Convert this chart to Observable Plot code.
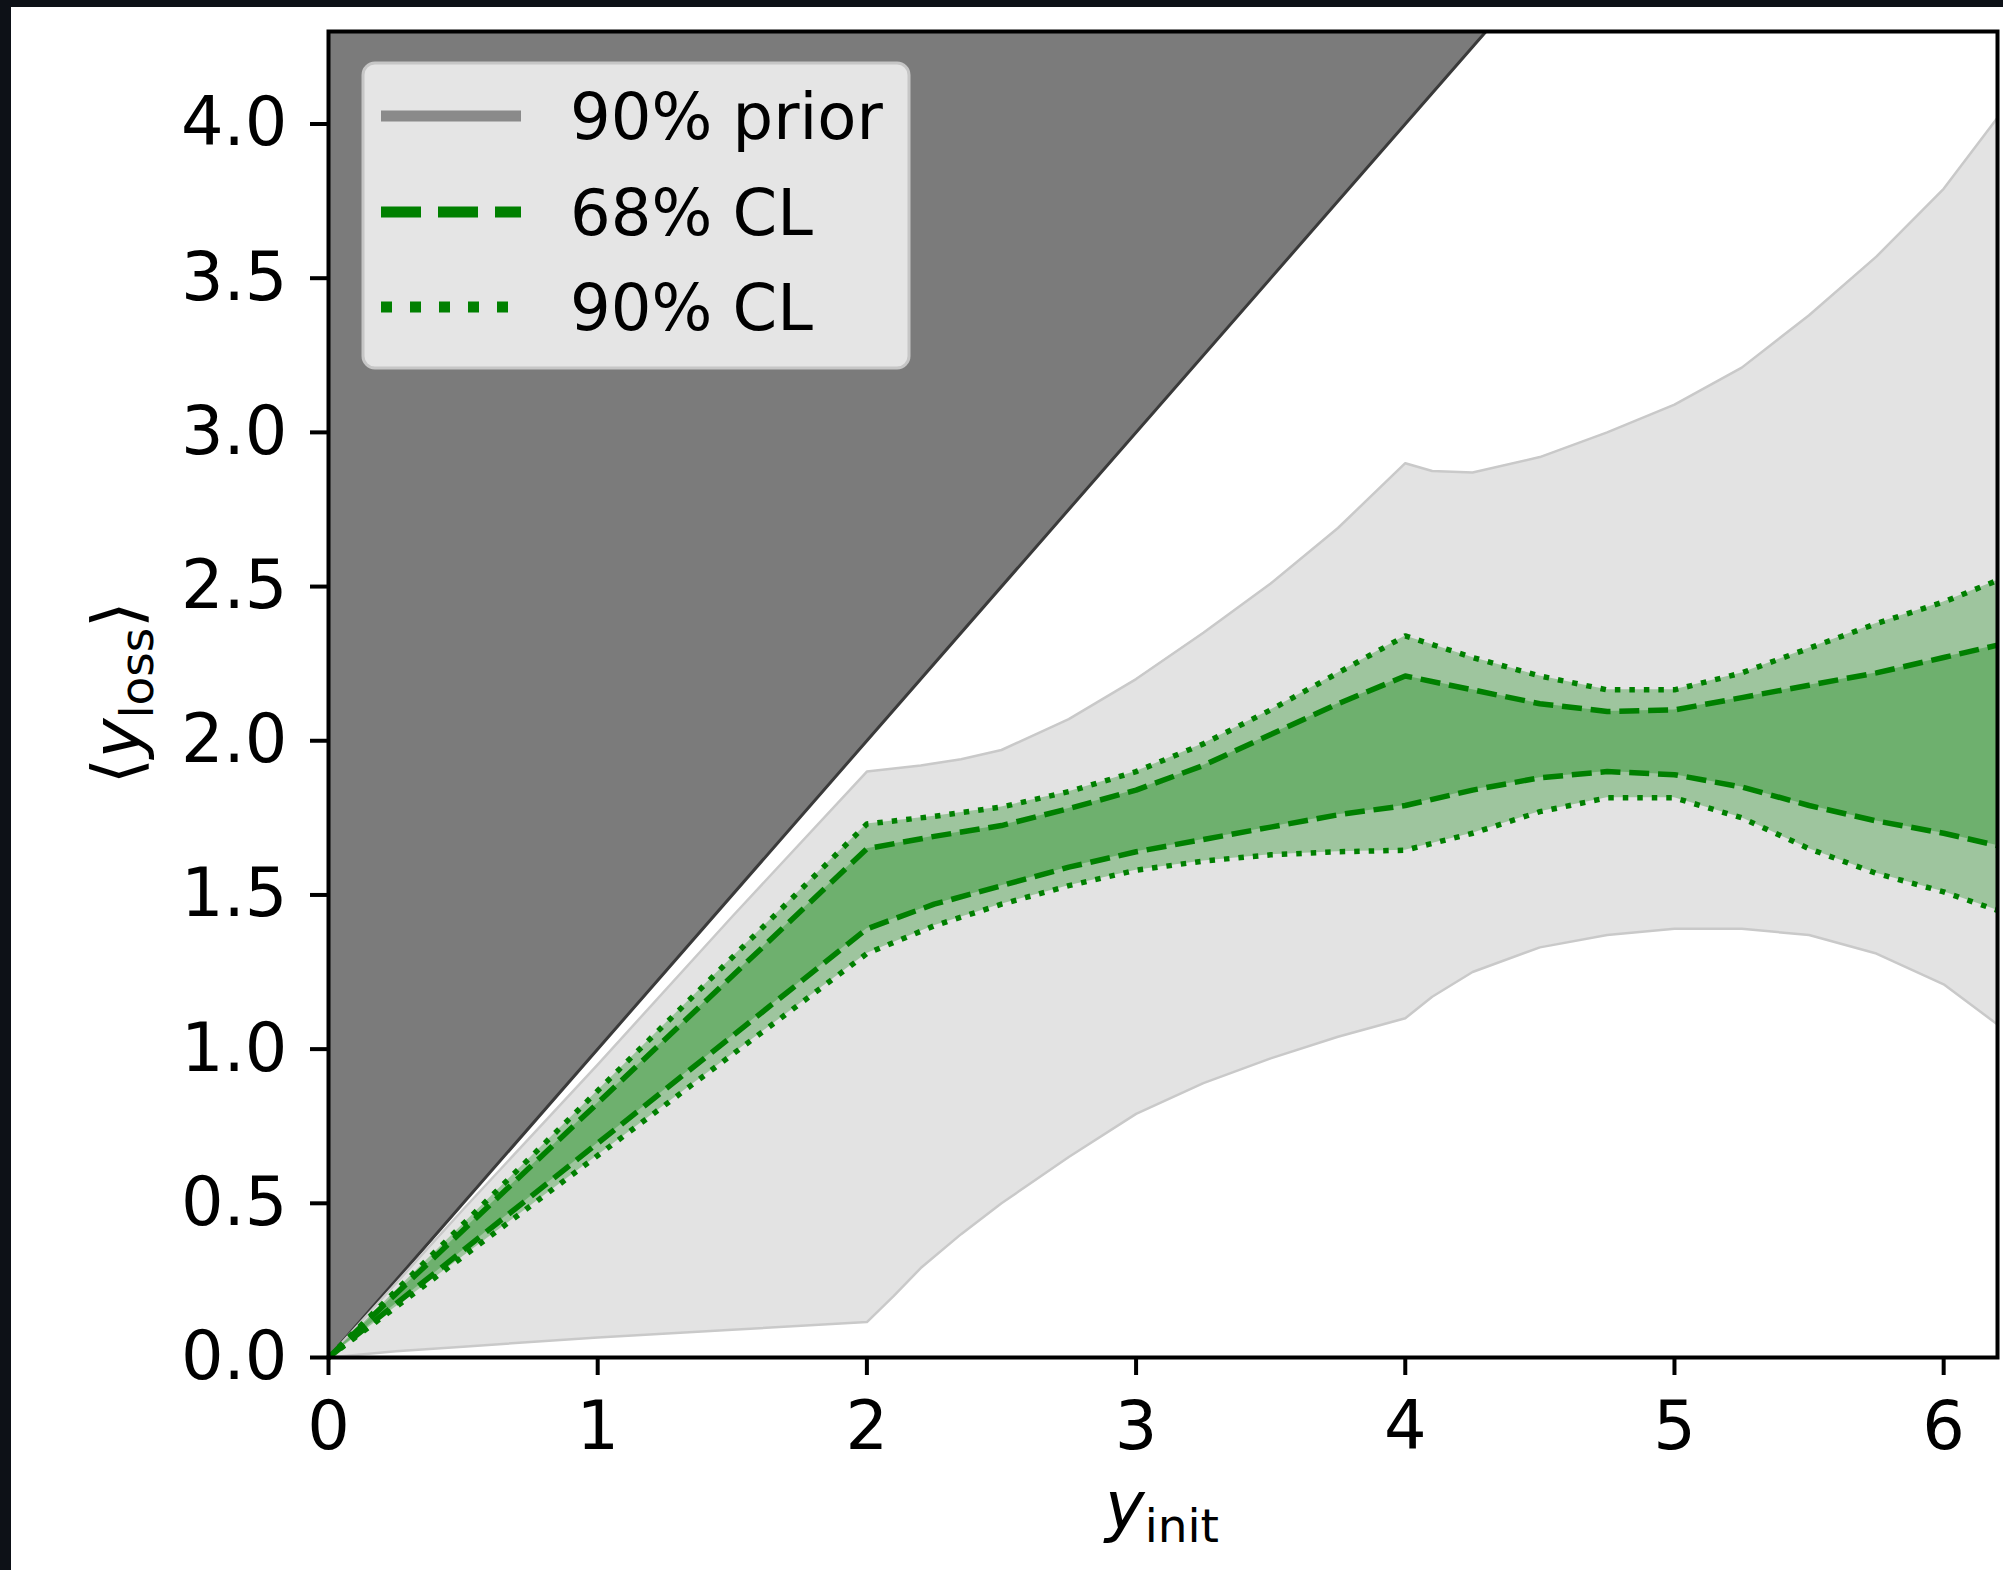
<!DOCTYPE html>
<html>
<head>
<meta charset="utf-8">
<script src="https://cdn.jsdelivr.net/npm/d3@7"></script>
<script src="https://cdn.jsdelivr.net/npm/@observablehq/plot@0.6"></script>
<style>
  html, body { margin: 0; padding: 0; background: #ffffff; }
  #wrap { position: relative; width: 2003px; height: 1570px; overflow: hidden; background: #ffffff; }
  .band { position: absolute; background: #0d1117; }
</style>
</head>
<body>
<div id="wrap"></div>
<script>
// ---- tick values ----
const xTicks = [0, 1, 2, 3, 4, 5, 6];
const yTicks = [0, 0.5, 1, 1.5, 2, 2.5, 3, 3.5, 4];

// ---- unphysical region boundary (y_loss = y_init) ----
const diagX = [0, 4.3];
const diagY = [0, 4.3];
const diagTop = [4.3, 4.3];

// ---- 90% prior band (light gray) ----
const priorX  = [0, 0.25, 0.5, 1, 1.5, 2, 2.1, 2.2, 2.35, 2.5, 2.75, 3, 3.25, 3.5, 3.75, 4, 4.1, 4.25, 4.5, 4.75, 5, 5.25, 5.5, 5.75, 6, 6.2];
const priorLo = [0, 0.02, 0.035, 0.065, 0.09, 0.115, 0.20, 0.29, 0.40, 0.50, 0.65, 0.79, 0.89, 0.97, 1.04, 1.10, 1.17, 1.25, 1.33, 1.37, 1.39, 1.39, 1.37, 1.31, 1.21, 1.08];
const priorHi = [0, 0.24, 0.48, 0.95, 1.43, 1.90, 1.91, 1.92, 1.94, 1.97, 2.07, 2.20, 2.35, 2.51, 2.69, 2.90, 2.875, 2.87, 2.92, 3.00, 3.09, 3.21, 3.38, 3.57, 3.79, 4.02];

// ---- confidence bands (green) ----
const clX    = [0, 2, 2.25, 2.5, 2.75, 3, 3.25, 3.5, 3.75, 4, 4.25, 4.5, 4.75, 5, 5.25, 5.5, 5.75, 6, 6.2];
const cl90Hi = [0, 1.73, 1.755, 1.785, 1.835, 1.90, 1.99, 2.10, 2.22, 2.34, 2.27, 2.21, 2.165, 2.165, 2.22, 2.30, 2.38, 2.45, 2.52];
const cl68Hi = [0, 1.65, 1.69, 1.725, 1.78, 1.84, 1.92, 2.02, 2.12, 2.21, 2.165, 2.12, 2.095, 2.10, 2.14, 2.18, 2.22, 2.27, 2.31];
const cl68Lo = [0, 1.39, 1.47, 1.53, 1.59, 1.64, 1.68, 1.72, 1.76, 1.79, 1.84, 1.88, 1.90, 1.89, 1.85, 1.79, 1.74, 1.70, 1.66];
const cl90Lo = [0, 1.31, 1.40, 1.47, 1.53, 1.58, 1.61, 1.63, 1.64, 1.645, 1.70, 1.77, 1.815, 1.815, 1.75, 1.65, 1.57, 1.51, 1.45];

// ---- legend labels ----
const legendLabels = ["90% prior", "68% CL", "90% CL"];

// ---- tables for the library ----
const diag  = diagX.map((x, i) => ({x, y: diagY[i], top: diagTop[i]}));
const prior = priorX.map((x, i) => ({x, lo: priorLo[i], hi: priorHi[i]}));
const cl    = clX.map((x, i) => ({x, lo90: cl90Lo[i], hi90: cl90Hi[i], lo68: cl68Lo[i], hi68: cl68Hi[i]}));

const GREEN = "#008000";
const FONT = "DejaVu Sans";
const dotted = {stroke: GREEN, strokeWidth: 5.5, strokeDasharray: "5.5,9", strokeLinecap: "butt"};
const dashed = {stroke: GREEN, strokeWidth: 5.5, strokeDasharray: "20,8.8", strokeLinecap: "butt"};

const plot = Plot.plot({
  width: 2003,
  height: 1570,
  marginLeft: 328,
  marginRight: 6,
  marginTop: 31,
  marginBottom: 213,
  style: {fontFamily: FONT, fontSize: "67px", color: "black", background: "transparent"},
  x: {domain: [0, 6.2]},
  y: {domain: [0, 4.3]},
  marks: [
    Plot.areaY(diag, {x: "x", y1: "y", y2: "top", fill: "#7b7b7b"}),
    Plot.line(diag, {x: "x", y: "y", stroke: "#3a3a3a", strokeWidth: 3}),
    Plot.areaY(prior, {x: "x", y1: "lo", y2: "hi", fill: "#e3e3e3"}),
    Plot.line(prior, {x: "x", y: "hi", stroke: "#c9c9c9", strokeWidth: 2.5}),
    Plot.line(prior, {x: "x", y: "lo", stroke: "#c9c9c9", strokeWidth: 2.5}),
    Plot.areaY(cl, {x: "x", y1: "lo90", y2: "hi90", fill: GREEN, fillOpacity: 0.3}),
    Plot.areaY(cl, {x: "x", y1: "lo68", y2: "hi68", fill: GREEN, fillOpacity: 0.3}),
    Plot.line(cl, {x: "x", y: "hi90", ...dotted}),
    Plot.line(cl, {x: "x", y: "lo90", ...dotted}),
    Plot.line(cl, {x: "x", y: "hi68", ...dashed}),
    Plot.line(cl, {x: "x", y: "lo68", ...dashed}),
    Plot.frame({stroke: "black", strokeWidth: 4}),
    Plot.axisX({ticks: xTicks, tickSize: 18, tickPadding: 26, strokeWidth: 4, label: null, tickFormat: d3.format("d")}),
    Plot.axisY({ticks: yTicks, tickSize: 18, tickPadding: 23, strokeWidth: 4, label: null, tickFormat: d3.format(".1f")})
  ]
});

const wrap = document.getElementById("wrap");
wrap.appendChild(plot);

const svg = d3.select(plot);

// ---- legend ----
const lg = svg.append("g").attr("font-family", FONT).attr("font-size", 64).attr("text-anchor", "start");
lg.append("rect")
  .attr("x", 363).attr("y", 63).attr("width", 546).attr("height", 305)
  .attr("rx", 12).attr("ry", 12)
  .attr("fill", "#e5e5e5").attr("stroke", "#c6c6c6").attr("stroke-width", 3);
const rows = [
  {y: 116, stroke: "#8a8a8a", dash: null},
  {y: 212, stroke: GREEN, dash: "40,17"},
  {y: 307, stroke: GREEN, dash: "11,18"}
];
rows.forEach((r, i) => {
  const ln = lg.append("line")
    .attr("x1", 381).attr("x2", 521).attr("y1", r.y).attr("y2", r.y)
    .attr("stroke", r.stroke).attr("stroke-width", 11).attr("stroke-linecap", "butt");
  if (r.dash) ln.attr("stroke-dasharray", r.dash);
  lg.append("text").attr("x", 570).attr("y", r.y + 23)
    .attr("text-anchor", "start").attr("fill", "black").text(legendLabels[i]);
});

// ---- axis labels ----
const xl = svg.append("text")
  .attr("x", 1162).attr("y", 1529)
  .attr("text-anchor", "middle")
  .attr("font-family", FONT).attr("font-size", 67).attr("fill", "black");
xl.append("tspan").attr("font-style", "italic").text("y");
xl.append("tspan").attr("font-size", 47).attr("dy", 13).text("init");

const yl = svg.append("text")
  .attr("transform", "translate(140,693) rotate(-90)")
  .attr("text-anchor", "middle")
  .attr("font-family", FONT).attr("font-size", 67).attr("fill", "black");
yl.append("tspan").text("\u27E8");
yl.append("tspan").attr("font-style", "italic").text("y");
yl.append("tspan").attr("font-size", 47).attr("dy", 13).text("loss");
yl.append("tspan").attr("dy", -13).text("\u27E9");

// ---- dark screenshot border ----
const b1 = document.createElement("div");
b1.className = "band"; b1.style.cssText = "left:0;top:0;width:11px;height:1570px;";
const b2 = document.createElement("div");
b2.className = "band"; b2.style.cssText = "left:0;top:0;width:2003px;height:7px;";
wrap.appendChild(b1); wrap.appendChild(b2);
</script>
</body>
</html>
